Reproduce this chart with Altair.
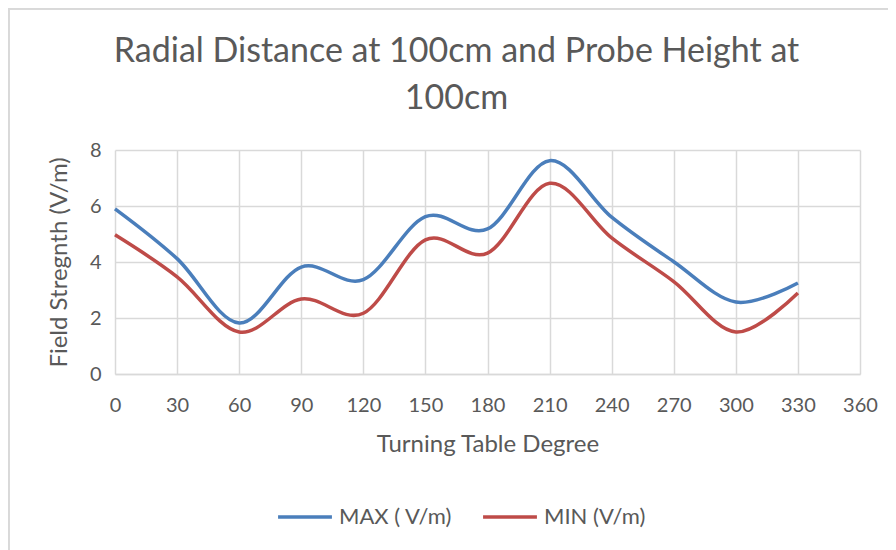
import altair as alt
import pandas as pd

degrees = [0, 30, 60, 90, 120, 150, 180, 210, 240, 270, 300, 330]
max_vals = [5.9, 4.12, 1.82, 3.82, 3.37, 5.62, 5.18, 7.62, 5.6, 4.01, 2.57, 3.25]
min_vals = [4.97, 3.47, 1.5, 2.68, 2.17, 4.79, 4.32, 6.81, 4.86, 3.3, 1.5, 2.89]
series_names = ["MAX ( V/m)", "MIN (V/m)"]
series_colors = ["#4A7EBB", "#BE4B48"]
x_ticks = [0, 30, 60, 90, 120, 150, 180, 210, 240, 270, 300, 330, 360]
y_ticks = [0, 2, 4, 6, 8]

rows = []
for d, v in zip(degrees, max_vals):
    rows.append({"deg": d, "val": v, "series": series_names[0]})
for d, v in zip(degrees, min_vals):
    rows.append({"deg": d, "val": v, "series": series_names[1]})
df = pd.DataFrame(rows)

FONT = "Lato"
GREY = "#595959"
GRID = "#D9D9D9"

lines = alt.Chart(df).mark_line(interpolate="cardinal", strokeWidth=3.5).encode(
    x=alt.X("deg:Q", scale=alt.Scale(domain=[0, 360], nice=False),
            axis=alt.Axis(values=x_ticks, title="Turning Table Degree", grid=True,
                          ticks=False, domain=True, domainColor=GRID, domainWidth=1.5,
                          labelFlush=False, labelPadding=21, titlePadding=17)),
    y=alt.Y("val:Q", scale=alt.Scale(domain=[0, 8], nice=False),
            axis=alt.Axis(values=y_ticks, title="Field Stregnth (V/m)", grid=True,
                          ticks=False, domain=False, labelPadding=14, titlePadding=18)),
    color=alt.Color("series:N", sort=series_names,
                    scale=alt.Scale(domain=series_names, range=series_colors),
                    legend=alt.Legend(title=None, orient="none", direction="horizontal",
                                      legendX=161, legendY=338, symbolType="stroke",
                                      symbolSize=2900, symbolStrokeWidth=3.5,
                                      labelFontSize=22, labelFont=FONT, labelColor=GREY,
                                      labelOffset=5, columnPadding=23)),
)

frame = alt.Chart(df).mark_rect(fill=None, stroke=GRID, strokeWidth=1.5).encode(
    x=alt.value(-106.25), y=alt.value(-141.25), x2=alt.value(900), y2=alt.value(520)
)

chart = alt.layer(frame, lines).properties(
    width=745,
    height=224,
    autosize=alt.AutoSizeParams(type="none"),
    padding={"left": 107, "top": 142, "right": 28, "bottom": 176},
    title=alt.Title(["Radial Distance at 100cm and Probe Height at", "100cm"],
                    font=FONT, fontSize=34, fontWeight="normal", color=GREY,
                    anchor="middle", dx=-31, lineHeight=47, offset=0, dy=108),
).configure_view(stroke=None).configure_axis(
    gridColor=GRID, gridWidth=1.5,
    labelFont=FONT, labelFontSize=20, labelColor=GREY,
    titleFont=FONT, titleFontSize=24, titleColor=GREY, titleFontWeight="normal",
)

chart.save("out.html", embed_options={"renderer": "svg", "actions": False})
